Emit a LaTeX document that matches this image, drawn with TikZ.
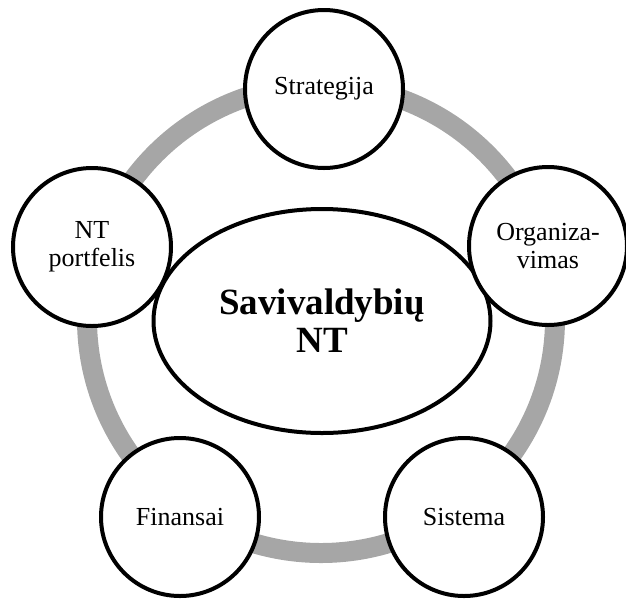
\documentclass[tikz,border=0pt]{standalone}
\usepackage{fontspec}
\setmainfont{Liberation Serif}
\usepackage{tikz}
\usepackage{xcolor}
\usetikzlibrary{shapes.geometric}

\definecolor{ringgray}{HTML}{A6A6A6}

\begin{document}
\begin{tikzpicture}[x=1pt, y=-1pt,
    part/.style={circle, draw, line width=4pt, fill=white, minimum size=158pt,
      inner sep=0pt, align=center, font=\fontsize{26}{28}\selectfont}]

    \useasboundingbox (0,0) rectangle (626,598);

    \coordinate (C) at (321,319); 

    \draw[line width=20pt, ringgray] (C) circle [radius=234pt];

    \node[ellipse, draw, line width=4pt, fill=white, minimum width=337pt, minimum height=224pt,
      align=center, font=\fontsize{37}{38}\selectfont\bfseries] (core) at (322,321) {Savivaldybių\\NT};

    \node[part] (strat) at (324,89) {Strategija};
    \node[part] (org) at (548,246) {Organiza-\\vimas};
    \node[part] (sist) at (464,517) {Sistema};
    \node[part] (fin) at (180,517) {Finansai};
    \node[part] (port) at (92,247) {NT\\portfelis};
\end{tikzpicture}
\end{document}
